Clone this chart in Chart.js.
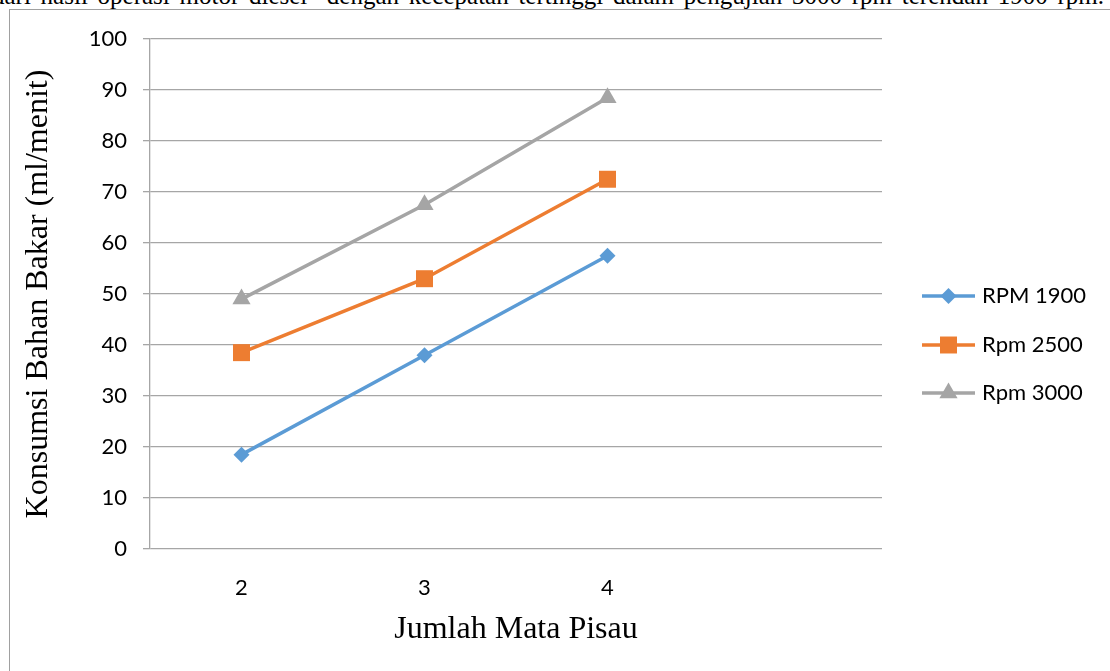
<!DOCTYPE html>
<html lang="en">
<head>
  <meta charset="UTF-8" />
  <title>Konsumsi Bahan Bakar</title>
  <script src="https://cdn.jsdelivr.net/npm/chart.js"></script>
  <style>
    html, body { margin: 0; padding: 0; background: #fff; overflow: hidden; }
    #wrap { position: relative; width: 1110px; height: 671px; overflow: hidden; }
    #caption {
      position: absolute; top: -18px; left: -8px; white-space: nowrap;
      font-family: "Liberation Serif", serif; font-size: 25px; line-height: 1.107;
      word-spacing: 3.5px; color: #000;
    }
    #frame {
      position: absolute; left: 9px; top: 9px; width: 1200px; height: 800px;
      border: 1px solid #a0a0a0;
    }
    canvas { position: absolute; left: 0; top: 0; }
  </style>
</head>
<body>
  <div id="wrap">
    <div id="caption">dari hasil operasi motor diesel&nbsp; dengan kecepatan tertinggi dalam pengujian 3000 rpm terendah 1900 rpm.</div>
    <div id="frame"></div>
    <canvas id="chart" width="1110" height="671"></canvas>
  </div>

  <script>
    const categories = ['2', '3', '4', ''];
    const rpm1900 = [18.5, 38, 57.5, null];
    const rpm2500 = [38.5, 53, 72.5, null];
    const rpm3000 = [49, 67.5, 88.5, null];
    const seriesNames = ['RPM 1900', 'Rpm 2500', 'Rpm 3000'];

    const colors = ['#5b9bd5', '#ed7d31', '#a5a5a5'];
    const shapes = ['rectRot', 'rect', 'triangle'];
    const radii = [8, 12, 10.5];
    const tickFont = 'Lato, "Noto Sans", sans-serif';

    // legend drawn by hand: line with marker in the middle
    const lineLegend = {
      id: 'lineLegend',
      afterDraw(chart) {
        const ctx = chart.ctx;
        const x0 = 922, x1 = 975, tx = 982;
        const rows = [296, 345, 393];
        ctx.save();
        seriesNames.forEach((name, i) => {
          const y = rows[i];
          ctx.strokeStyle = colors[i];
          ctx.lineWidth = 3.5;
          ctx.beginPath();
          ctx.moveTo(x0, y);
          ctx.lineTo(x1, y);
          ctx.stroke();
          ctx.fillStyle = colors[i];
          Chart.helpers.drawPoint(ctx, { pointStyle: shapes[i], radius: radii[i], borderWidth: 0 }, (x0 + x1) / 2, y);
          ctx.fillStyle = '#000';
          ctx.font = '22px ' + tickFont;
          ctx.textBaseline = 'middle';
          ctx.fillText(name, tx, y);
        });
        ctx.restore();
      }
    };

    const datasets = [rpm1900, rpm2500, rpm3000].map((data, i) => ({
      label: seriesNames[i],
      data,
      borderColor: colors[i],
      backgroundColor: colors[i],
      borderWidth: 3.5,
      pointStyle: shapes[i],
      pointRadius: radii[i],
      pointBorderWidth: 0,
      pointBackgroundColor: colors[i],
      tension: 0
    }));

    new Chart(document.getElementById('chart'), {
      type: 'line',
      data: { labels: categories, datasets },
      options: {
        responsive: false,
        animation: false,
        layout: { padding: { left: 0, right: 228, top: 39, bottom: 0 } },
        plugins: {
          legend: { display: false },
          tooltip: { enabled: false }
        },
        scales: {
          x: {
            offset: true,
            grid: { display: false },
            border: { display: false },
            ticks: {
              color: '#000',
              padding: 18,
              font: { family: tickFont, size: 22 }
            },
            title: {
              display: true,
              text: 'Jumlah Mata Pisau',
              color: '#000',
              font: { family: '"Liberation Serif", serif', size: 32 },
              padding: { top: 0, bottom: 22 }
            },
            afterFit(scale) { scale.height = 122; }
          },
          y: {
            min: 0,
            max: 100,
            ticks: {
              stepSize: 10,
              color: '#000',
              padding: 16,
              font: { family: tickFont, size: 22 }
            },
            grid: { color: '#a6a6a6', lineWidth: 1.3, tickLength: 7 },
            border: { color: '#a6a6a6', width: 1.3 },
            title: {
              display: true,
              text: 'Konsumsi Bahan Bakar (ml/menit)',
              color: '#000',
              font: { family: '"Liberation Serif", serif', size: 32 },
              padding: { top: 19, bottom: 0 }
            },
            afterFit(scale) { scale.width = 150; }
          }
        }
      },
      plugins: [lineLegend]
    });
  </script>
</body>
</html>
